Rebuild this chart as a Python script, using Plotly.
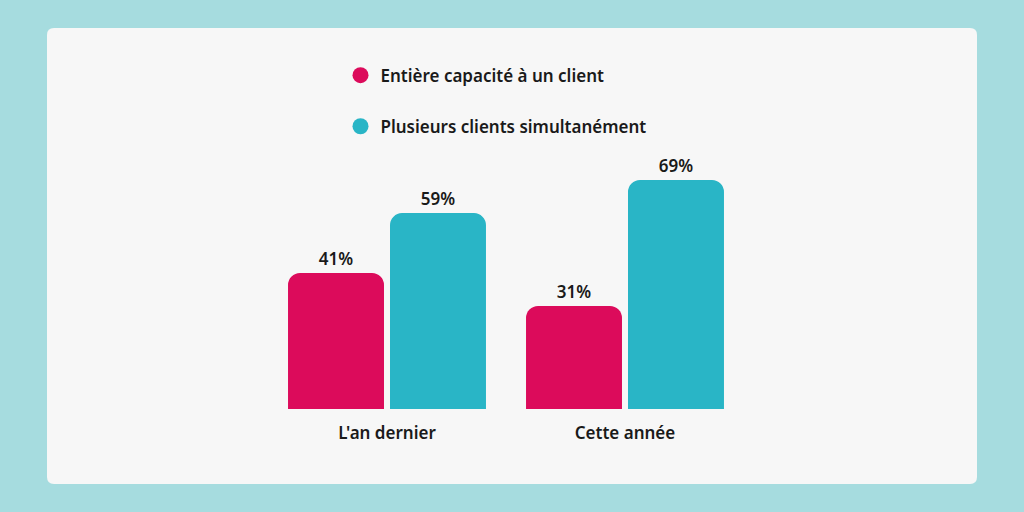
import plotly.graph_objects as go

categories = ["L'an dernier", "Cette année"]
series_names = ["Entière capacité à un client", "Plusieurs clients simultanément"]
values_single = [41, 31]
values_multi = [59, 69]
colors = ["#DC0B5B", "#29B5C6"]

W, H = 1024, 512
ML, MR, MT, MB = 268, 280, 77, 103
PW, PH = W - ML - MR, H - MT - MB

fig = go.Figure()

for name, vals, col in zip(series_names, [values_single, values_multi], colors):
    fig.add_trace(go.Bar(
        x=categories, y=vals, name=name, marker=dict(color=col, line=dict(width=0)),
        text=[f"{v}%" for v in vals], textposition="outside", cliponaxis=False,
        textfont=dict(size=17, color="#1a1a1a", family="Noto Sans", weight=600),
        showlegend=False, hoverinfo="skip",
    ))
    fig.add_trace(go.Scatter(
        x=[None], y=[None], mode="markers", name=name,
        marker=dict(color=col, size=20, symbol="circle"), legendgroup=name,
    ))


def px(x, y):
    return f"{(x - ML) / PW:.5f},{1 - (y - MT) / PH:.5f}"


x0, y0, x1, y1, r = 47, 28, 977, 484, 7
path_paper = (f"M{px(x0+r,y0)} L{px(x1-r,y0)} Q{px(x1,y0)} {px(x1,y0+r)} L{px(x1,y1-r)} Q{px(x1,y1)} {px(x1-r,y1)} "
              f"L{px(x0+r,y1)} Q{px(x0,y1)} {px(x0,y1-r)} L{px(x0,y0+r)} Q{px(x0,y0)} {px(x0+r,y0)} Z")

fig.update_layout(
    width=W, height=H,
    margin=dict(l=ML, r=MR, t=MT, b=MB, pad=0),
    paper_bgcolor="#A6DCDF", plot_bgcolor="rgba(0,0,0,0)",
    barmode="group", bargap=0.143, bargroupgap=0.059, barcornerradius=12,
    font=dict(family="Noto Sans", color="#1a1a1a"),
    xaxis=dict(showgrid=False, zeroline=False, showline=False, ticks="",
               tickfont=dict(size=17, color="#1a1a1a", family="Noto Sans", weight=600),
               ticklabelstandoff=12, fixedrange=True),
    yaxis=dict(range=[0, 100], visible=False, fixedrange=True),
    legend=dict(x=(340.5 - ML) / PW, y=1 - (57.6 - MT) / PH, xanchor="left", yanchor="top",
                orientation="v", bgcolor="rgba(0,0,0,0)", tracegroupgap=26,
                font=dict(size=17, color="#1a1a1a", family="Noto Sans", weight=600),
                itemclick=False, itemdoubleclick=False),
    shapes=[dict(type="path", xref="paper", yref="paper", path=path_paper,
                 fillcolor="#F7F7F7", line=dict(width=0), layer="below")],
)

fig.write_html("out.html", config={"displayModeBar": False},
               post_script="document.body.style.margin='0px';document.body.style.overflow='hidden';")
